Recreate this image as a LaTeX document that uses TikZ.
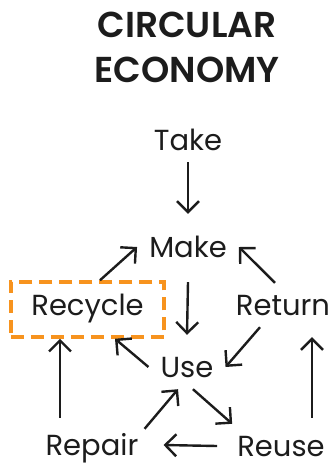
\documentclass[tikz,border=0pt]{standalone}
\usepackage{fontspec}
\setmainfont{Poppins}
\newfontfamily\titlefont{Poppins SemiBold}
\usetikzlibrary{arrows.meta}
\definecolor{ink}{HTML}{1C1C1C}
\definecolor{highlight}{HTML}{F7931E}
\tikzset{
  heading/.style={font=\fontsize{36}{36}\titlefont, text=ink, inner sep=0pt, anchor=base},
  stage/.style={font=\fontsize{29}{29}\selectfont, text=ink, inner sep=12pt, text height=20pt, text depth=0pt, anchor=base},
  chosen/.style={draw=highlight, line width=3.5pt, dash pattern=on 13pt off 7pt, inner xsep=20.5pt, inner ysep=0pt, text height=33pt, text depth=22pt},
  flow/.style={draw=ink, line width=2.4pt, -{Straight Barb[length=11pt,width=22pt]}},
}
\begin{document}
\begin{tikzpicture}[x=1pt,y=-1pt]
  \useasboundingbox (0,0) rectangle (336,469);

  % title
  \node[heading] (titletop) at (187,37) {CIRCULAR};
  \node[heading] (titlebottom) at (187,82) {ECONOMY};

  % stages
  \node[stage] (take) at (188,150) {Take};
  \node[stage] (make) at (188,257) {Make};
  \node[stage, chosen] (recycle) at (87.5,315) {Recycle};
  \node[stage] (return) at (283,315) {Return};
  \node[stage] (use) at (187,377) {Use};
  \node[stage] (repair) at (92,455) {Repair};
  \node[stage] (reuse) at (281,456) {Reuse};

  % flows
  \draw[flow] (take.south) -- ([yshift=11pt]make.north);
  \draw[flow] ([xshift=12.5pt]recycle.north) -- (make.west);
  \draw[flow] ([yshift=-13pt]make.south) -- ([yshift=10pt]use.north);
  \draw[flow] ([xshift=-8pt]return.north) -- (make.east);
  \draw[flow] (return.-136) -- (use.east);
  \draw[flow] (use.west) -- ([xshift=27.5pt]recycle.south);
  \draw[flow] ([shift={(-32pt,5pt)}]repair.north) -- ([xshift=-27.5pt]recycle.south);
  \draw[flow] ([shift={(-6pt,-6pt)}]repair.north east) -- (use.-112);
  \draw[flow] (use.-75) -- ([xshift=7pt]reuse.north west);
  \draw[flow] ([xshift=-8pt]reuse.west) -- ([xshift=13pt]repair.east);
  \draw[flow] ([shift={(31pt,6pt)}]reuse.north) -- ([shift={(29pt,-10pt)}]return.south);
\end{tikzpicture}
\end{document}
